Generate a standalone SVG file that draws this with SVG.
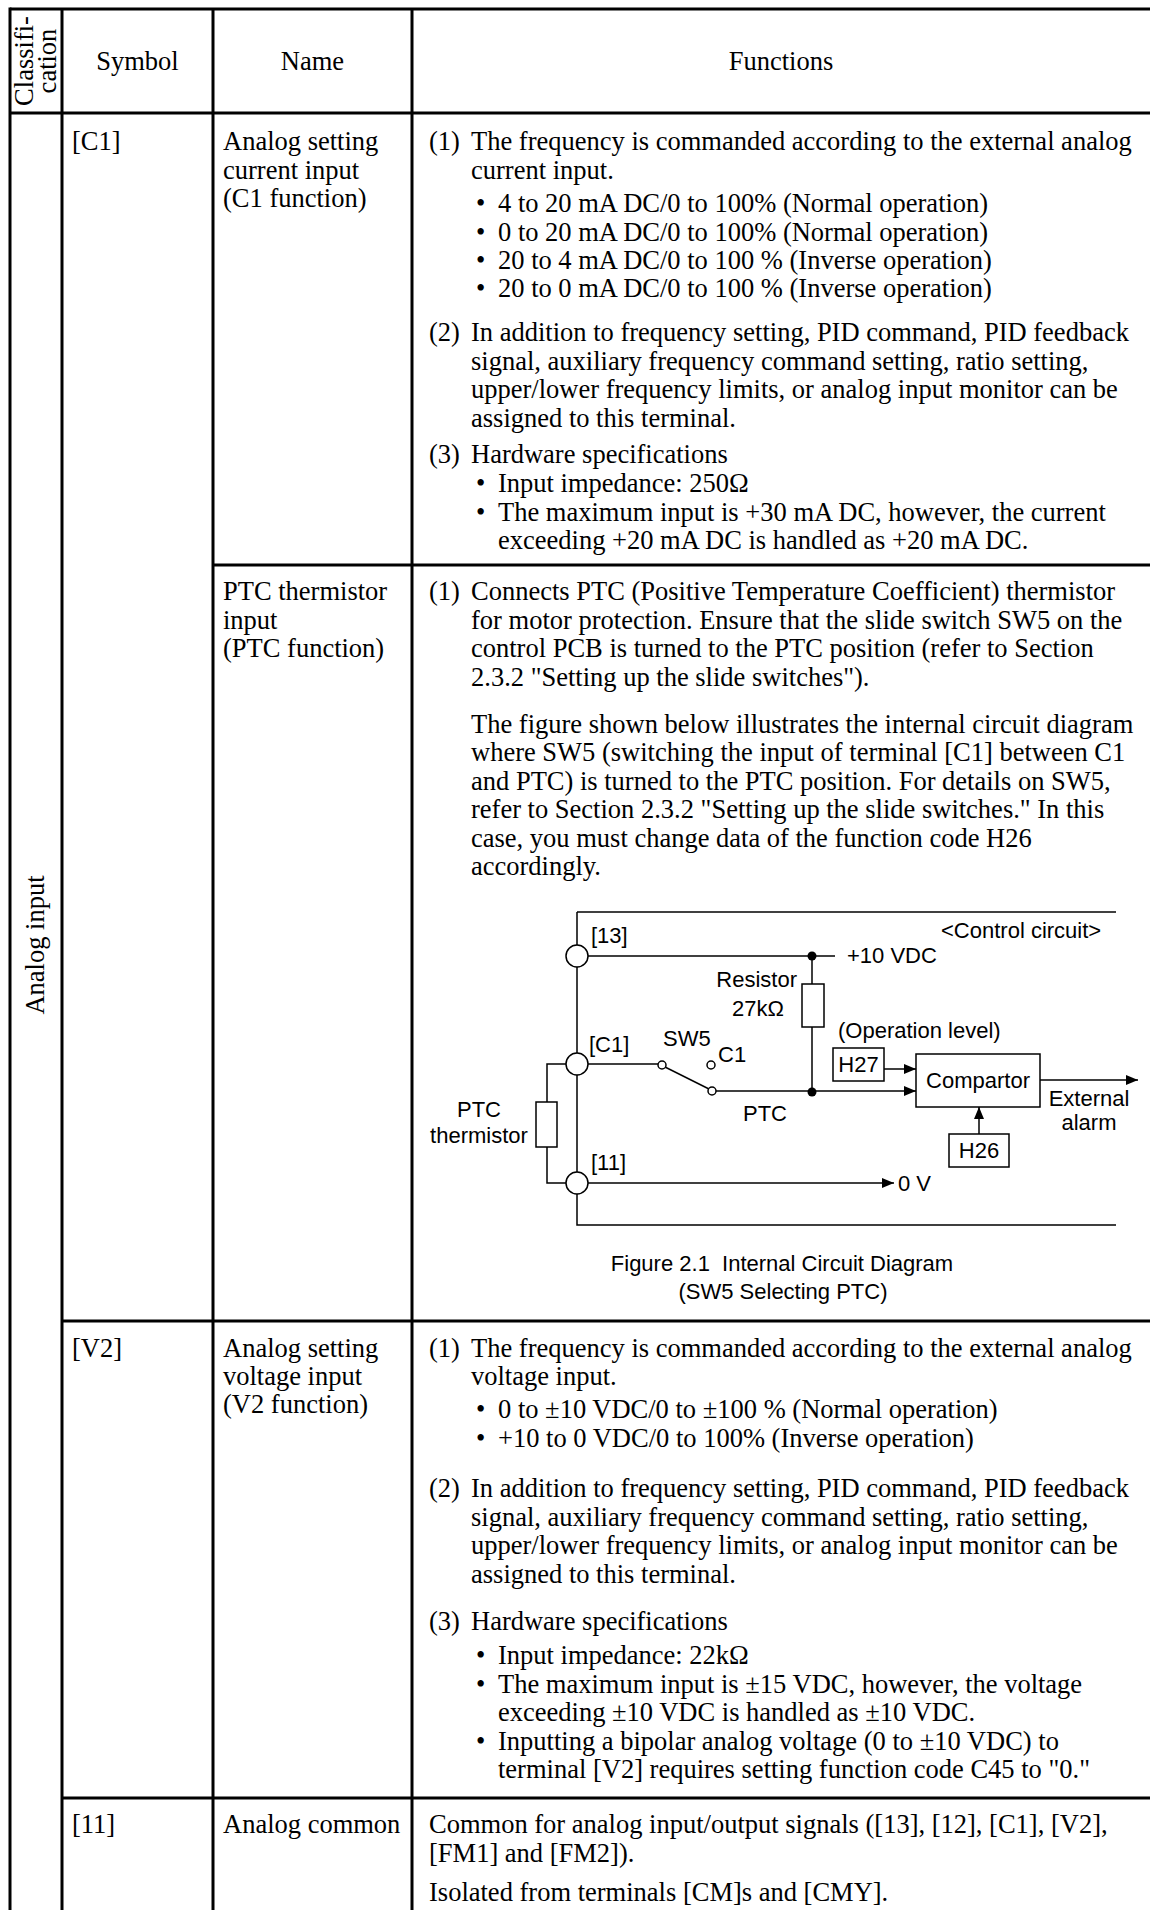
<svg xmlns="http://www.w3.org/2000/svg" width="1150" height="1910" viewBox="0 0 1150 1910">
<style>
.t{font-family:"Liberation Serif","Times New Roman",serif;font-size:26.5px;fill:#000}
.h{font-family:"Liberation Serif","Times New Roman",serif;font-size:26.5px;fill:#000;text-anchor:middle}
.c{font-family:"Liberation Sans",Arial,sans-serif;font-size:22px;fill:#000}
.grid{stroke:#000;stroke-width:3;fill:none}
.w{stroke:#000;stroke-width:1.5;fill:none}
.box{stroke:#000;stroke-width:1.5;fill:#fff}
</style>
<defs>
<marker id="ah" viewBox="0 0 12 10" refX="12" refY="5" markerWidth="12" markerHeight="10" markerUnits="userSpaceOnUse" orient="auto">
<path d="M0,0 L12,5 L0,10 z" fill="#000"/>
</marker>
</defs>
<rect x="0" y="0" width="1150" height="1910" fill="#fff"/>

<g id="table-grid" class="grid">
<line x1="10" y1="9" x2="1150" y2="9"/>
<line x1="10" y1="113" x2="1150" y2="113"/>
<line x1="213" y1="565" x2="1150" y2="565"/>
<line x1="62" y1="1321" x2="1150" y2="1321"/>
<line x1="62" y1="1798" x2="1150" y2="1798"/>
<line x1="10" y1="7.5" x2="10" y2="1910"/>
<line x1="62" y1="9" x2="62" y2="1910"/>
<line x1="213" y1="9" x2="213" y2="1910"/>
<line x1="412" y1="9" x2="412" y2="1910"/>
</g>

<g id="header">
<text class="t" font-size="23" text-anchor="middle" transform="translate(33,61) rotate(-90)">Classifi-</text>
<text class="t" font-size="23" text-anchor="middle" transform="translate(56,61) rotate(-90)">cation</text>
<text class="h" x="137.5" y="70">Symbol</text>
<text class="h" x="312.5" y="70">Name</text>
<text class="h" x="781" y="70">Functions</text>
</g>

<g id="classification">
<text class="t" text-anchor="middle" transform="translate(44,945) rotate(-90)">Analog input</text>
</g>

<g id="row-c1" class="t">
<text x="72" y="150">[C1]</text>
<text x="223" y="150">Analog setting</text>
<text x="223" y="179">current input</text>
<text x="223" y="207">(C1 function)</text>
<text x="429" y="150">(1)</text>
<text x="471" y="150">The frequency is commanded according to the external analog</text>
<text x="471" y="179">current input.</text>
<text x="476" y="212">•</text><text x="498" y="212">4 to 20 mA DC/0 to 100% (Normal operation)</text>
<text x="476" y="241">•</text><text x="498" y="241">0 to 20 mA DC/0 to 100% (Normal operation)</text>
<text x="476" y="269">•</text><text x="498" y="269">20 to 4 mA DC/0 to 100 % (Inverse operation)</text>
<text x="476" y="297">•</text><text x="498" y="297">20 to 0 mA DC/0 to 100 % (Inverse operation)</text>
<text x="429" y="341">(2)</text>
<text x="471" y="341">In addition to frequency setting, PID command, PID feedback</text>
<text x="471" y="370">signal, auxiliary frequency command setting, ratio setting,</text>
<text x="471" y="398">upper/lower frequency limits, or analog input monitor can be</text>
<text x="471" y="427">assigned to this terminal.</text>
<text x="429" y="463">(3)</text>
<text x="471" y="463">Hardware specifications</text>
<text x="476" y="492">•</text><text x="498" y="492">Input impedance: 250Ω</text>
<text x="476" y="521">•</text><text x="498" y="521">The maximum input is +30 mA DC, however, the current</text>
<text x="498" y="549">exceeding +20 mA DC is handled as +20 mA DC.</text>
</g>

<g id="row-ptc" class="t">
<text x="223" y="600">PTC thermistor</text>
<text x="223" y="629">input</text>
<text x="223" y="657">(PTC function)</text>
<text x="429" y="600">(1)</text>
<text x="471" y="600">Connects PTC (Positive Temperature Coefficient) thermistor</text>
<text x="471" y="629">for motor protection. Ensure that the slide switch SW5 on the</text>
<text x="471" y="657">control PCB is turned to the PTC position (refer to Section</text>
<text x="471" y="686">2.3.2 "Setting up the slide switches").</text>
<text x="471" y="733">The figure shown below illustrates the internal circuit diagram</text>
<text x="471" y="761">where SW5 (switching the input of terminal [C1] between C1</text>
<text x="471" y="790">and PTC) is turned to the PTC position. For details on SW5,</text>
<text x="471" y="818">refer to Section 2.3.2 "Setting up the slide switches." In this</text>
<text x="471" y="847">case, you must change data of the function code H26</text>
<text x="471" y="875">accordingly.</text>
</g>

<g id="circuit">
<g id="connectors">
<path class="w" d="M577,912 H1116"/>
<path class="w" d="M577,912 V1225 H1116"/>
<path class="w" d="M577,956 H835"/>
<path class="w" d="M812,956 V1092"/>
<path class="w" d="M577,1064 H658"/>
<path class="w" d="M665,1067 L709,1089"/>
<path class="w" d="M716,1091 H916" marker-end="url(#ah)"/>
<path class="w" d="M884,1069 H916" marker-end="url(#ah)"/>
<path class="w" d="M1040,1080 H1138" marker-end="url(#ah)"/>
<path class="w" d="M979,1134 V1107" marker-end="url(#ah)"/>
<path class="w" d="M577,1183 H894" marker-end="url(#ah)"/>
<path class="w" d="M566,1064 H547 V1183 H566"/>
</g>
<g id="terminal-13"><circle class="box" cx="577" cy="956" r="11"/><text class="c" x="591" y="943">[13]</text></g>
<g id="terminal-c1"><circle class="box" cx="577" cy="1064" r="11"/><text class="c" x="589" y="1052">[C1]</text></g>
<g id="terminal-11"><circle class="box" cx="577" cy="1183" r="11"/><text class="c" x="591" y="1170">[11]</text></g>
<g id="ptc-thermistor"><rect class="box" x="536" y="1102" width="21" height="45"/>
<text class="c" x="479" y="1117" text-anchor="middle">PTC</text>
<text class="c" x="479" y="1143" text-anchor="middle">thermistor</text></g>
<g id="resistor"><rect class="box" x="802" y="984" width="22" height="43"/>
<text class="c" x="797" y="987" text-anchor="end">Resistor</text>
<text class="c" x="784" y="1016" text-anchor="end">27kΩ</text></g>
<g id="sw5">
<circle class="box" cx="662" cy="1065" r="4"/>
<circle class="box" cx="711" cy="1065" r="4"/>
<circle class="box" cx="712" cy="1091" r="4"/>
<text class="c" x="663" y="1046">SW5</text>
<text class="c" x="718" y="1062">C1</text>
<text class="c" x="743" y="1121">PTC</text>
</g>
<g id="junctions"><circle cx="812" cy="956" r="4.5"/><circle cx="812" cy="1092" r="4.5"/></g>
<g id="supply"><text class="c" x="847" y="963">+10 VDC</text><text class="c" x="941" y="938">&lt;Control circuit&gt;</text></g>
<g id="h27"><rect class="box" x="833" y="1048" width="51" height="33"/><text class="c" x="858.5" y="1072" text-anchor="middle">H27</text>
<text class="c" x="838" y="1038">(Operation level)</text></g>
<g id="comparator"><rect class="box" x="916" y="1054" width="124" height="53"/><text class="c" x="978" y="1088" text-anchor="middle">Compartor</text></g>
<g id="h26"><rect class="box" x="949" y="1134" width="60" height="33"/><text class="c" x="979" y="1158" text-anchor="middle">H26</text></g>
<g id="external-alarm"><text class="c" x="1089" y="1106" text-anchor="middle">External</text><text class="c" x="1089" y="1130" text-anchor="middle">alarm</text></g>
<g id="zero-v"><text class="c" x="898" y="1191">0 V</text></g>
<g id="caption"><text class="c" x="782" y="1271" text-anchor="middle" xml:space="preserve">Figure 2.1  Internal Circuit Diagram</text>
<text class="c" x="783" y="1299" text-anchor="middle">(SW5 Selecting PTC)</text></g>
</g>

<g id="row-v2" class="t">
<text x="72" y="1357">[V2]</text>
<text x="223" y="1357">Analog setting</text>
<text x="223" y="1385">voltage input</text>
<text x="223" y="1413">(V2 function)</text>
<text x="429" y="1357">(1)</text>
<text x="471" y="1357">The frequency is commanded according to the external analog</text>
<text x="471" y="1385">voltage input.</text>
<text x="476" y="1418">•</text><text x="498" y="1418">0 to ±10 VDC/0 to ±100 % (Normal operation)</text>
<text x="476" y="1447">•</text><text x="498" y="1447">+10 to 0 VDC/0 to 100% (Inverse operation)</text>
<text x="429" y="1497">(2)</text>
<text x="471" y="1497">In addition to frequency setting, PID command, PID feedback</text>
<text x="471" y="1526">signal, auxiliary frequency command setting, ratio setting,</text>
<text x="471" y="1554">upper/lower frequency limits, or analog input monitor can be</text>
<text x="471" y="1583">assigned to this terminal.</text>
<text x="429" y="1630">(3)</text>
<text x="471" y="1630">Hardware specifications</text>
<text x="476" y="1664">•</text><text x="498" y="1664">Input impedance: 22kΩ</text>
<text x="476" y="1693">•</text><text x="498" y="1693">The maximum input is ±15 VDC, however, the voltage</text>
<text x="498" y="1721">exceeding ±10 VDC is handled as ±10 VDC.</text>
<text x="476" y="1750">•</text><text x="498" y="1750">Inputting a bipolar analog voltage (0 to ±10 VDC) to</text>
<text x="498" y="1778">terminal [V2] requires setting function code C45 to "0."</text>
</g>

<g id="row-11" class="t">
<text x="72" y="1833">[11]</text>
<text x="223" y="1833">Analog common</text>
<text x="429" y="1833">Common for analog input/output signals ([13], [12], [C1], [V2],</text>
<text x="429" y="1862">[FM1] and [FM2]).</text>
<text x="429" y="1901">Isolated from terminals [CM]s and [CMY].</text>
</g>
</svg>
